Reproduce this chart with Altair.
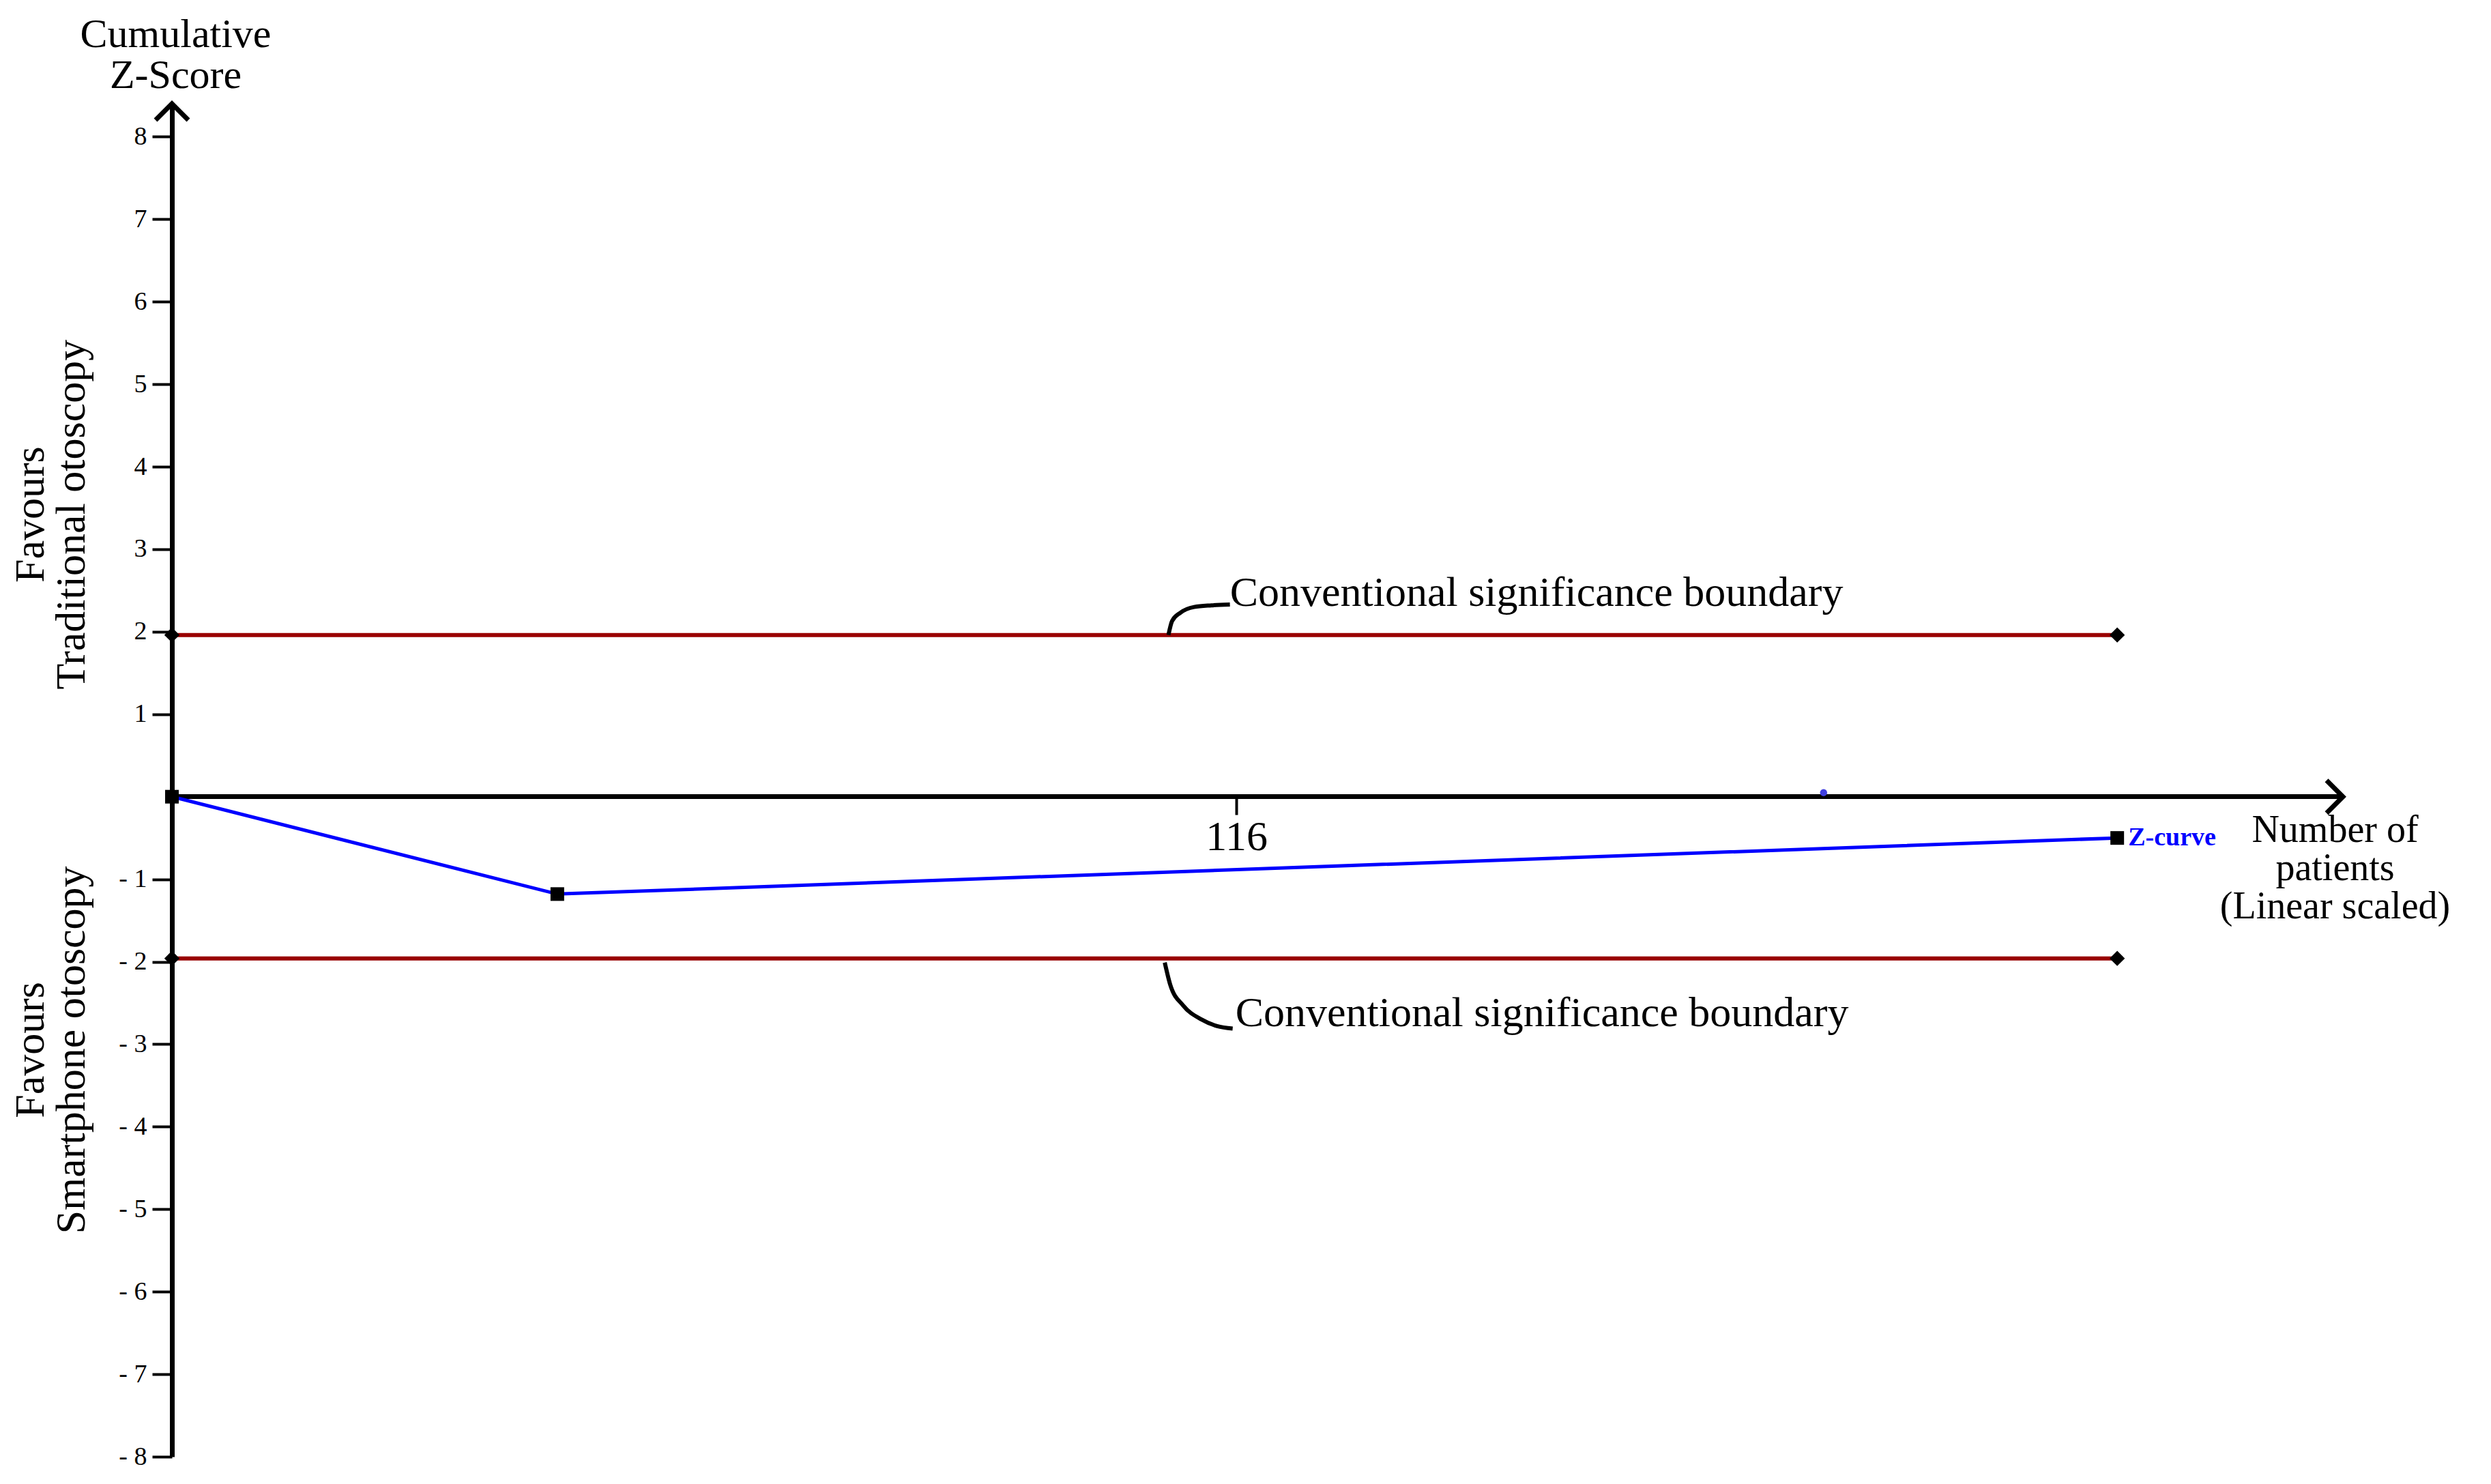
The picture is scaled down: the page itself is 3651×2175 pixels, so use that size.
import altair as alt
import pandas as pd

# ---- data ----
patients = [0, 42, 212]
zscores = [0.0, -1.18, -0.50]

boundary_x = [0, 212]
upper_boundary = [1.96, 1.96]
lower_boundary = [-1.96, -1.96]

x_ticks = [116]
y_ticks = [-8, -7, -6, -5, -4, -3, -2, -1, 1, 2, 3, 4, 5, 6, 7, 8]

stray_x = [180]
stray_z = [0.05]

# annotation anchors (in data units)
bound_label_text = ["Conventional significance boundary", "Conventional significance boundary"]
bound_label_x = [115.3, 115.9]
bound_label_z = [2.31, -2.78]

conn_upper_x = [108.6, 109.0, 109.9, 111.4, 113.3, 115.3]
conn_upper_z = [1.96, 2.13, 2.23, 2.30, 2.32, 2.33]
conn_lower_x = [108.2, 108.8, 110.2, 112.2, 113.9, 115.6]
conn_lower_z = [-2.01, -2.28, -2.53, -2.70, -2.78, -2.81]

side_text = ["Favours\nTraditional otoscopy", "Favours\nSmartphone otoscopy"]
side_x = [-14.0, -14.0]
side_z = [3.42, -3.07]

X_MAX = 236.6
Y_MIN, Y_MAX = -8, 8.4
FONT = "Liberation Serif"

xaxis = alt.Axis(
    orient="bottom", offset=-968, values=x_ticks,
    tickSize=27, tickWidth=4, tickColor="black",
    domainColor="black", domainWidth=7,
    labelFont=FONT, labelFontSize=62, labelColor="black", labelPadding=2,
    labelFlush=False, labelOverlap=False, grid=False,
    title=["Number of", "patients", "(Linear scaled)"],
    titleX=3170, titleY=66, titleAlign="center", titleBaseline="alphabetic",
    titleAngle=0, titleFont=FONT, titleFontSize=56, titleFontWeight="normal",
    titleLineHeight=56, titleColor="black",
)
yaxis = alt.Axis(
    orient="left", values=y_ticks,
    tickSize=29, tickWidth=4, tickColor="black",
    domainColor="black", domainWidth=7,
    labelFont=FONT, labelFontSize=38, labelColor="black", labelPadding=8,
    labelFlush=False, labelOverlap=False, grid=False,
    labelExpr="datum.value < 0 ? '- ' + abs(datum.value) : datum.label",
    title=["Cumulative", "Z-Score"],
    titleX=5, titleY=-84, titleAlign="center", titleBaseline="alphabetic",
    titleAngle=0, titleFont=FONT, titleFontSize=60, titleFontWeight="normal",
    titleLineHeight=60, titleColor="black",
)

X = alt.X("x:Q", scale=alt.Scale(domain=[0, X_MAX], nice=False, zero=False), axis=xaxis)
Y = alt.Y("y:Q", scale=alt.Scale(domain=[Y_MIN, Y_MAX], nice=False, zero=False), axis=yaxis)

bounds_df = pd.DataFrame({
    "x": boundary_x + boundary_x,
    "y": upper_boundary + lower_boundary,
    "g": ["u"] * len(boundary_x) + ["l"] * len(boundary_x),
})
z_df = pd.DataFrame({"x": patients, "y": zscores})
stray_df = pd.DataFrame({"x": stray_x, "y": stray_z})
conn_df = pd.DataFrame({
    "x": conn_upper_x + conn_lower_x,
    "y": conn_upper_z + conn_lower_z,
    "g": ["u"] * len(conn_upper_x) + ["l"] * len(conn_lower_x),
})
blabel_df = pd.DataFrame({"x": bound_label_x, "y": bound_label_z, "t": bound_label_text})
zlabel_df = pd.DataFrame({"x": [patients[-1]], "y": [zscores[-1]], "t": ["Z-curve"]})
side_df = pd.DataFrame({"x": side_x, "y": side_z, "t": side_text})
yarrow_df = pd.DataFrame({"x": [0], "y": [Y_MAX]})
xarrow_df = pd.DataFrame({"x": [X_MAX], "y": [0]})

bound_lines = alt.Chart(bounds_df).mark_line(color="#990000", strokeWidth=6).encode(
    x=X, y=Y, detail="g:N")
bound_pts = alt.Chart(bounds_df).mark_point(
    shape="diamond", filled=True, color="black", size=500, opacity=1).encode(x=X, y=Y)
z_line = alt.Chart(z_df).mark_line(color="#0000ff", strokeWidth=5).encode(x=X, y=Y)
z_pts = alt.Chart(z_df).mark_point(
    shape="square", filled=True, color="black", size=400, opacity=1).encode(x=X, y=Y)
stray = alt.Chart(stray_df).mark_point(
    shape="circle", filled=True, color="#3f3fdf", size=110, opacity=1).encode(x=X, y=Y)
conn = alt.Chart(conn_df).mark_line(
    color="black", strokeWidth=6, interpolate="monotone").encode(x=X, y=Y, detail="g:N")
blabels = alt.Chart(blabel_df).mark_text(
    font=FONT, fontSize=62, align="left", baseline="alphabetic", color="black").encode(
    x=X, y=Y, text="t:N")
zlabel = alt.Chart(zlabel_df).mark_text(
    font=FONT, fontSize=38, fontWeight="bold", align="left", baseline="middle",
    color="#0000ff", dx=16).encode(x=X, y=Y, text="t:N")
side = alt.Chart(side_df).mark_text(
    font=FONT, fontSize=62, align="center", baseline="alphabetic", angle=270,
    lineBreak="\n", lineHeight=60, color="black").encode(x=X, y=Y, text="t:N")
yarrow = alt.Chart(yarrow_df).mark_point(
    shape="M-1,1L0,0L1,1", filled=False, color="black", strokeWidth=7,
    size=2304, opacity=1).encode(x=X, y=Y)
xarrow = alt.Chart(xarrow_df).mark_point(
    shape="M-1,-1L0,0L-1,1", filled=False, color="black", strokeWidth=7,
    size=2304, opacity=1).encode(x=X, y=Y)

chart = alt.layer(
    bound_lines, conn, z_line, bound_pts, z_pts, stray, blabels, zlabel, side, yarrow, xarrow
).properties(
    width=3182, height=1983,
    autosize=alt.AutoSizeParams(type="none"),
    padding={"left": 244, "top": 144, "right": 180, "bottom": 20},
    background="white",
).configure_view(stroke=None)

chart.save("out.html", embed_options={"renderer": "svg", "actions": False})
